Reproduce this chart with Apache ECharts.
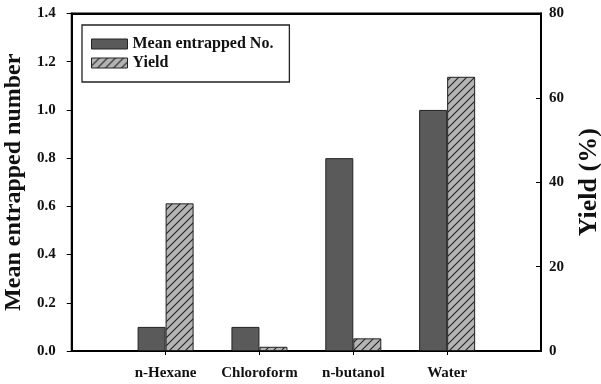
<!DOCTYPE html>
<html><head><meta charset="utf-8">
<script src="https://cdn.jsdelivr.net/npm/echarts@6/dist/echarts.min.js"></script>
<style>html,body{margin:0;padding:0;background:#fff}#c{width:601px;height:384px}</style>
</head><body><div id="c"></div>
<script>
const categories = ['', 'n-Hexane', 'Chloroform', 'n-butanol', 'Water', ''];
const meanEntrapped = [null, 0.1, 0.1, 0.8, 1.0, null];
const yieldPct = [null, 35, 1, 3, 65, null];
const leftTicks = [0, 1.4, 0.2];
const rightTicks = [0, 80, 20];

function hatch() {
  const s = 8, c = document.createElement('canvas');
  c.width = s; c.height = s;
  const g = c.getContext('2d');
  g.fillStyle = '#b4b4b4'; g.fillRect(0, 0, s, s);
  g.strokeStyle = '#222'; g.lineWidth = 1.1;
  g.beginPath();
  g.moveTo(-1, s + 1); g.lineTo(s + 1, -1);
  g.moveTo(-1, 1); g.lineTo(1, -1);
  g.moveTo(s - 1, s + 1); g.lineTo(s + 1, s - 1);
  g.stroke();
  return c;
}
const font = 'Liberation Serif';
const chart = echarts.init(document.getElementById('c'));
chart.setOption({
  animation: false,
  textStyle: { fontFamily: font },
  grid: { left: 34, right: 34, top: 6, bottom: 3,
          outerBoundsMode: 'same', outerBoundsContain: 'axisLabel',
          outerBounds: { left: 0, top: 0, right: 0, bottom: 0 },
          show: true, borderColor: '#000', borderWidth: 2, backgroundColor: 'transparent' },
  legend: {
    orient: 'vertical', left: 82, top: 25,
    padding: [11, 16, 11, 9], itemGap: 3,
    borderColor: '#222', borderWidth: 1.3,
    itemWidth: 36, itemHeight: 10, itemStyle: { borderColor: '#222', borderWidth: 1 },
    textStyle: { fontFamily: font, fontWeight: 'bold', fontSize: 16, color: '#111' },
    data: [{ name: 'Mean entrapped No.', icon: 'rect' }, { name: 'Yield', icon: 'rect' }]
  },
  xAxis: [
    {
      type: 'category', data: categories, boundaryGap: false, position: 'bottom',
      axisLine: { onZero: false, lineStyle: { color: '#000', width: 2 } },
      axisTick: { show: true, length: 4, inside: false, lineStyle: { color: '#000' }, alignWithLabel: true,
                  interval: (i, v) => v !== '' },
      axisLabel: { fontFamily: font, fontWeight: 'bold', fontSize: 15, color: '#111', margin: 15, interval: 0 },
      splitLine: { show: false }
    },
    {
      type: 'category', data: categories, boundaryGap: false, position: 'top',
      axisLine: { show: true, onZero: false, lineStyle: { color: '#000', width: 2 } },
      axisTick: { show: false }, axisLabel: { show: false }, splitLine: { show: false }
    }
  ],
  yAxis: [
    {
      type: 'value', min: leftTicks[0], max: leftTicks[1], interval: leftTicks[2], position: 'left',
      name: 'Mean entrapped number', nameLocation: 'middle', nameGap: 31, nameRotate: 90,
      nameTextStyle: { fontFamily: font, fontWeight: 'bold', fontSize: 24, color: '#111' },
      axisLine: { show: true, onZero: false, lineStyle: { color: '#000', width: 2 } },
      axisTick: { show: true, length: 5, lineStyle: { color: '#000' } },
      axisLabel: { fontFamily: font, fontWeight: 'bold', fontSize: 15, color: '#111', margin: 16, formatter: v => v.toFixed(1) },
      splitLine: { show: false }
    },
    {
      type: 'value', min: rightTicks[0], max: rightTicks[1], interval: rightTicks[2], position: 'right',
      name: 'Yield (%)', nameLocation: 'middle', nameGap: 35, nameRotate: 90,
      nameTextStyle: { fontFamily: font, fontWeight: 'bold', fontSize: 26, color: '#111' },
      axisLine: { show: true, onZero: false, lineStyle: { color: '#000', width: 2 } },
      axisTick: { show: true, inside: true, length: 5, lineStyle: { color: '#000' } },
      axisLabel: { fontFamily: font, fontWeight: 'bold', fontSize: 15, color: '#111', margin: 8 },
      splitLine: { show: false }
    }
  ],
  series: [
    {
      name: 'Mean entrapped No.', type: 'bar', yAxisIndex: 0, data: meanEntrapped,
      barWidth: 28, barGap: '0%',
      itemStyle: { color: '#5a5a5a', borderColor: '#222', borderWidth: 1 }
    },
    {
      name: 'Yield', type: 'bar', yAxisIndex: 1, data: yieldPct,
      barWidth: 28, barGap: '0%',
      itemStyle: { color: { image: hatch(), repeat: 'repeat' }, borderColor: '#222', borderWidth: 1 }
    }
  ]
});
</script></body></html>
